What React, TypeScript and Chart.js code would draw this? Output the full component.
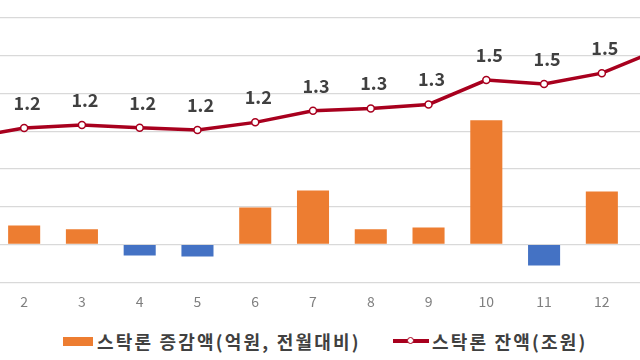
import React, { useEffect, useRef } from "react";
import { Chart, registerables } from "chart.js";

Chart.register(...registerables);

const categories = ["1", "2", "3", "4", "5", "6", "7", "8", "9", "10", "11", "12", "13"];
const changeValues = [120, 250, 200, -146, -160, 490, 715, 200, 225, 1642, -278, 702, 900];
const balanceValues = [1.158, 1.218, 1.236, 1.22, 1.206, 1.252, 1.321, 1.335, 1.359, 1.504, 1.48, 1.545, 1.687];
const balanceLabels = ["1.2", "1.2", "1.2", "1.2", "1.2", "1.2", "1.3", "1.3", "1.3", "1.5", "1.5", "1.5", "1.7"];
const barLegend = "스탁론 증감액(억원, 전월대비)";
const lineLegend = "스탁론 잔액(조원)";

const ORANGE = "#ED7D31";
const BLUE = "#4472C4";
const RED = "#A8001E";
const FONT = '"Noto Sans CJK KR", "Noto Sans", sans-serif';

const labelPlugin = {
  id: "lineLabels",
  afterDatasetsDraw(chart: any) {
    const meta = chart.getDatasetMeta(1);
    const ctx = chart.ctx;
    ctx.save();
    ctx.font = `bold 18px ${FONT}`;
    ctx.fillStyle = "#404040";
    ctx.textAlign = "center";
    ctx.textBaseline = "middle";
    meta.data.forEach((pt: any, i: number) => {
      ctx.fillText(balanceLabels[i], pt.x + 3, pt.y - 25);
    });
    ctx.restore();
  },
};

const legendText: React.CSSProperties = {
  font: `bold 18px ${FONT}`,
  letterSpacing: "2.2px",
  color: "#404040",
};

export default function App() {
  const ref = useRef<HTMLCanvasElement | null>(null);
  useEffect(() => {
    if (!ref.current) return;
    const chart = new Chart(ref.current, {
      type: "bar",
      data: {
        labels: categories,
        datasets: [
          {
            type: "bar",
            label: barLegend,
            data: changeValues,
            backgroundColor: changeValues.map((v) => (v >= 0 ? ORANGE : BLUE)),
            barPercentage: 0.74,
            categoryPercentage: 0.75,
            yAxisID: "y",
            order: 1,
          },
          {
            type: "line",
            label: lineLegend,
            data: balanceValues,
            borderColor: RED,
            borderWidth: 3.5,
            pointRadius: 3.5,
            pointBackgroundColor: "#ffffff",
            pointBorderColor: RED,
            pointBorderWidth: 1.5,
            tension: 0,
            yAxisID: "y1",
            order: 0,
          },
        ] as any,
      },
      options: {
        animation: false,
        responsive: false,
        maintainAspectRatio: false,
        layout: { padding: { top: 20, left: 0, right: 0, bottom: 0 } },
        plugins: { legend: { display: false }, tooltip: { enabled: false } },
        scales: {
          x: {
            offset: true,
            grid: { display: false },
            border: { display: false },
            ticks: { color: "#7F7F7F", font: { family: FONT, size: 14 }, padding: 3 },
          },
          y: {
            position: "left",
            min: -500,
            max: 3500,
            ticks: { display: false, stepSize: 500 },
            grid: { color: "#D9D9D9", lineWidth: 1.2, drawTicks: false, tickLength: 0 },
            border: { display: false },
          },
          y1: {
            position: "right",
            display: false,
            min: 0.3,
            max: 2.1,
          },
        },
      } as any,
      plugins: [labelPlugin],
    });
    return () => chart.destroy();
  }, []);

  return (
    <div
      style={{
        position: "fixed",
        left: 0,
        top: 0,
        width: 640,
        height: 360,
        overflow: "hidden",
        background: "#fff",
      }}
    >
      <div style={{ position: "absolute", left: -67.9, top: -40, width: 762, height: 353 }}>
        <canvas ref={ref} width={762} height={353} style={{ width: 762, height: 353 }} />
      </div>
      <div
        style={{
          position: "absolute",
          left: 63,
          top: 328,
          display: "flex",
          alignItems: "center",
          whiteSpace: "nowrap",
        }}
      >
        <span style={{ display: "inline-block", width: 30, height: 9, background: ORANGE, marginRight: 4 }} />
        <span style={legendText}>{barLegend}</span>
      </div>
      <div
        style={{
          position: "absolute",
          left: 393,
          top: 328,
          display: "flex",
          alignItems: "center",
          whiteSpace: "nowrap",
        }}
      >
        <span style={{ position: "relative", display: "inline-block", width: 36, height: 20, marginRight: 3 }}>
          <span
            style={{ position: "absolute", left: 0, top: 8, width: 36, height: 3.5, background: RED }}
          />
          <span
            style={{
              position: "absolute",
              left: 14,
              top: 5.75,
              width: 5,
              height: 5,
              borderRadius: "50%",
              background: "#fff",
              border: `1.5px solid ${RED}`,
            }}
          />
        </span>
        <span style={legendText}>{lineLegend}</span>
      </div>
    </div>
  );
}
